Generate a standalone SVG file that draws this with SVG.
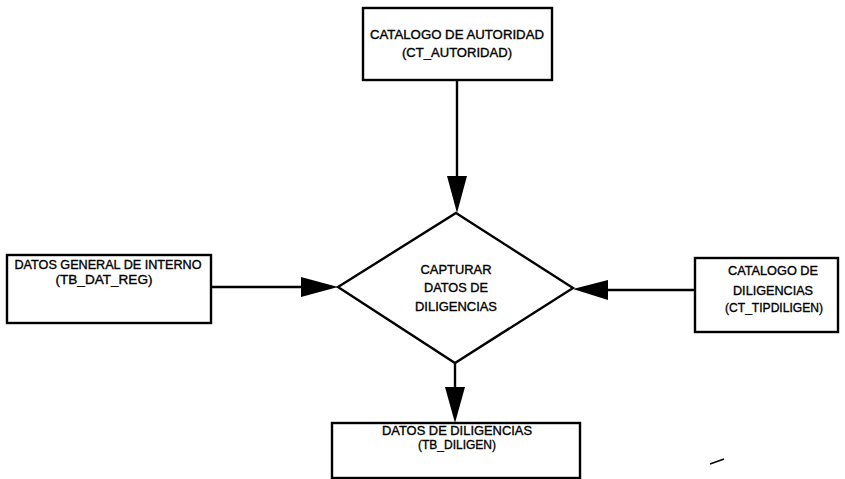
<svg xmlns="http://www.w3.org/2000/svg" width="845" height="479" viewBox="0 0 845 479">
  <style>
    .box { fill: #ffffff; stroke: #000000; stroke-width: 2.4; }
    .edge { fill: none; stroke: #000000; stroke-width: 2.4; }
    .head { fill: #000000; stroke: none; }
    .lbl { font-family: "Liberation Sans", Arial, sans-serif; font-size: 12.5px; fill: #000000; stroke: #000000; stroke-width: 0.35; text-anchor: middle; }
  </style>
  <rect width="845" height="479" fill="#ffffff"/>

  <!-- connectors -->
  <g id="connectors">
    <path class="edge" d="M457 80 V176"/>
    <polygon class="head" points="447,176 467,176 457,213"/>
    <path class="edge" d="M211 287 H301"/>
    <polygon class="head" points="301,277 301,297 338,287"/>
    <path class="edge" d="M695 290 H608"/>
    <polygon class="head" points="608,280 608,300 573,289"/>
    <path class="edge" d="M455 363 V387"/>
    <polygon class="head" points="445,387 465,387 455,423"/>
  </g>

  <!-- nodes -->
  <g id="ct-autoridad">
    <rect class="box" x="363" y="8" width="189" height="72"/>
    <text class="lbl" x="457" y="39" textLength="174" lengthAdjust="spacingAndGlyphs">CATALOGO DE AUTORIDAD</text>
    <text class="lbl" x="457" y="57" textLength="110" lengthAdjust="spacingAndGlyphs">(CT_AUTORIDAD)</text>
  </g>

  <g id="tb-dat-reg">
    <rect class="box" x="7" y="255" width="204" height="68"/>
    <text class="lbl" x="108" y="269" textLength="187" lengthAdjust="spacingAndGlyphs">DATOS GENERAL DE INTERNO</text>
    <text class="lbl" x="104" y="284" textLength="97" lengthAdjust="spacingAndGlyphs">(TB_DAT_REG)</text>
  </g>

  <g id="capturar">
    <polygon class="box" points="456,213 573,288 455,363 338,287"/>
    <text class="lbl" x="456" y="274" textLength="71" lengthAdjust="spacingAndGlyphs">CAPTURAR</text>
    <text class="lbl" x="456" y="292" textLength="64" lengthAdjust="spacingAndGlyphs">DATOS DE</text>
    <text class="lbl" x="456" y="311" textLength="82" lengthAdjust="spacingAndGlyphs">DILIGENCIAS</text>
  </g>

  <g id="ct-tipdiligen">
    <rect class="box" x="695" y="258" width="143" height="74"/>
    <text class="lbl" x="773" y="275" textLength="90" lengthAdjust="spacingAndGlyphs">CATALOGO DE</text>
    <text class="lbl" x="773" y="295" textLength="80" lengthAdjust="spacingAndGlyphs">DILIGENCIAS</text>
    <text class="lbl" x="774" y="312" textLength="98" lengthAdjust="spacingAndGlyphs">(CT_TIPDILIGEN)</text>
  </g>

  <g id="tb-diligen">
    <rect class="box" x="332" y="423" width="248" height="55"/>
    <text class="lbl" x="457" y="435" textLength="150" lengthAdjust="spacingAndGlyphs">DATOS DE DILIGENCIAS</text>
    <text class="lbl" x="457" y="449" textLength="78" lengthAdjust="spacingAndGlyphs">(TB_DILIGEN)</text>
  </g>

  <!-- stray pen mark -->
  <path d="M710 464 L724 459" stroke="#000000" stroke-width="1.5" fill="none"/>
</svg>
